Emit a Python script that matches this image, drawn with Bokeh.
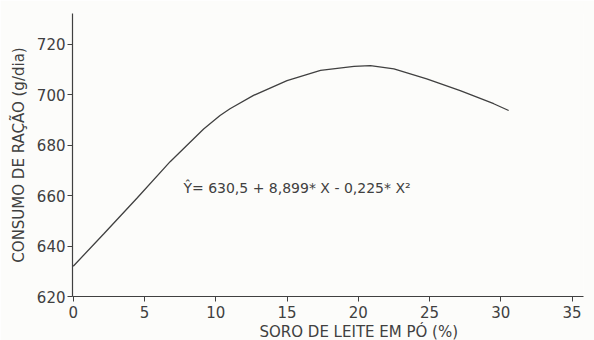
from bokeh.plotting import figure
from bokeh.models import Label, Range1d, FixedTicker, Title
from bokeh.embed import file_html
from bokeh.resources import INLINE

# Values
soro_pct = [0, 2.15, 4.5, 6.8, 9.15, 10.3, 11.0, 12.65, 15.0, 17.35, 19.7, 20.85,
            22.5, 24.8, 27.15, 29.5, 30.55]
consumo = [632.0, 644.9, 659.2, 673.5, 686.5, 691.8, 694.5, 699.8, 705.7, 709.7, 711.3, 711.6,
           710.3, 706.4, 701.7, 696.5, 693.8]
x_ticks = [0, 5, 10, 15, 20, 25, 30, 35]
y_ticks = [620, 640, 660, 680, 700, 720]
equation = "\u0176= 630,5 + 8,899* X - 0,225* X\u00b2"
x_title = "SORO DE LEITE EM PÓ (%)"
y_title = "CONSUMO DE RAÇÃO (g/dia)"

INK = "#404040"
FONT = "DejaVu Sans"
BG = "#fcfcfa"

p = figure(width=594, height=340, output_backend="svg", toolbar_location=None,
           x_range=Range1d(-0.05, 35.8), y_range=Range1d(620, 732.3),
           min_border_left=72, min_border_right=11, min_border_top=13, min_border_bottom=44,
           background_fill_color=BG, border_fill_color=BG, outline_line_color=None)
p.grid.visible = False

p.line(soro_pct, consumo, line_color=INK, line_width=1.3)

for ax in (p.xaxis, p.yaxis):
    ax.axis_line_color = INK
    ax.axis_line_width = 1.2
    ax.major_tick_line_color = INK
    ax.major_tick_out = 5
    ax.major_tick_in = 0
    ax.minor_tick_line_color = None
    ax.major_label_text_font = FONT
    ax.major_label_text_font_size = "15px"
    ax.major_label_text_color = INK
    ax.axis_label_text_font = FONT
    ax.axis_label_text_font_style = "normal"
    ax.axis_label_text_color = INK

p.xaxis.ticker = FixedTicker(ticks=x_ticks)
p.yaxis.ticker = FixedTicker(ticks=y_ticks)
p.xaxis.major_label_standoff = 4
p.yaxis.major_label_standoff = 2

p.yaxis.axis_label = y_title
p.yaxis.axis_label_text_font_size = "15px"
p.yaxis.axis_label_standoff = 6

p.add_layout(Title(text=x_title, align="left", offset=187, standoff=0,
                   text_font=FONT, text_font_size="15px", text_font_style="normal",
                   text_color=INK), "below")

p.add_layout(Label(x=7.73, y=662.9, text=equation, text_align="left",
                   text_baseline="alphabetic", text_font=FONT,
                   text_font_size="14px", text_color=INK))

open("out.html", "w").write(file_html(p, INLINE))
